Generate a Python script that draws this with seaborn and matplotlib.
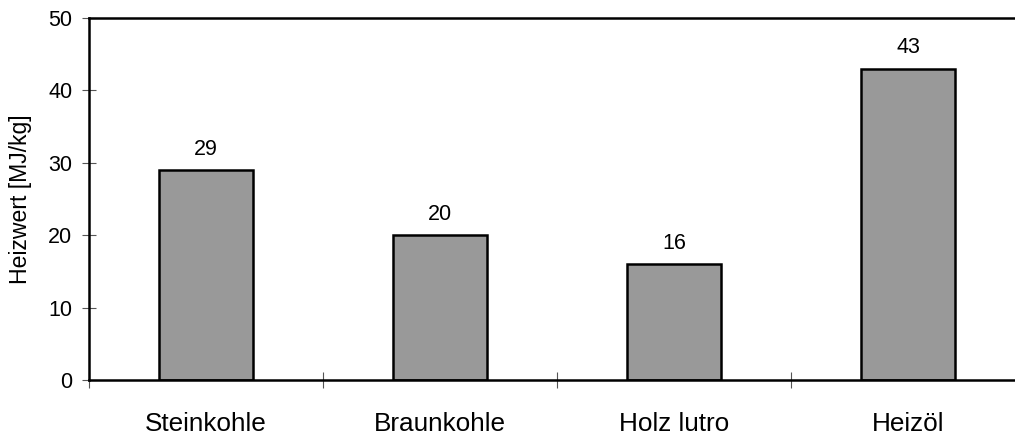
import matplotlib
matplotlib.use("Agg")
import matplotlib.pyplot as plt
import seaborn as sns
import pandas as pd

# Daten
brennstoffe = ["Steinkohle", "Braunkohle", "Holz lutro", "Heizöl"]
heizwert = [29, 20, 16, 43]

df = pd.DataFrame({"Brennstoff": brennstoffe, "Heizwert": heizwert})

sns.set_theme(style="white")
plt.rcParams["font.family"] = ["Liberation Sans", "DejaVu Sans"]
plt.rcParams["text.color"] = "black"
plt.rcParams["axes.labelcolor"] = "black"

fig = plt.figure(figsize=(10.15, 4.36), dpi=100)
ax = fig.add_axes([89 / 1015, 1 - 380 / 436, 1 - 89 / 1015, 362 / 436])

sns.barplot(data=df, x="Brennstoff", y="Heizwert", color="#999999",
            edgecolor="black", linewidth=1.8, width=0.4, saturation=1, ax=ax)

# Werte über den Balken
for i, v in enumerate(heizwert):
    ax.annotate(str(v), (i, v), xytext=(0, 11), textcoords="offset points",
                ha="center", va="baseline", fontsize=15.5, color="black")

ax.set_ylim(0, 50)
ax.set_xlim(-0.5, 3.5 - 10 / 234)
ax.set_yticks([0, 10, 20, 30, 40, 50])
ax.set_xlabel("")
ax.set_ylabel("Heizwert [MJ/kg]", fontsize=16.6, va="center")
ax.yaxis.set_label_coords(-0.0745, 0.5)

# Striche zwischen den Kategorien
ax.set_xticks([-0.5, 0.5, 1.5, 2.5], minor=True)
ax.tick_params(axis="x", which="major", length=0, pad=23, labelsize=18.8,
               labelcolor="black")
ax.tick_params(axis="x", which="minor", direction="inout", length=12,
               width=0.8, color="#555555", bottom=True)
ax.tick_params(axis="y", direction="inout", length=10, width=0.8,
               color="#555555", labelsize=15.5, pad=7, left=True,
               labelcolor="black")

for s in ["left", "top", "bottom"]:
    ax.spines[s].set_color("black")
    ax.spines[s].set_linewidth(1.8)
ax.spines["right"].set_visible(False)

fig.savefig("out.png", dpi=100)
